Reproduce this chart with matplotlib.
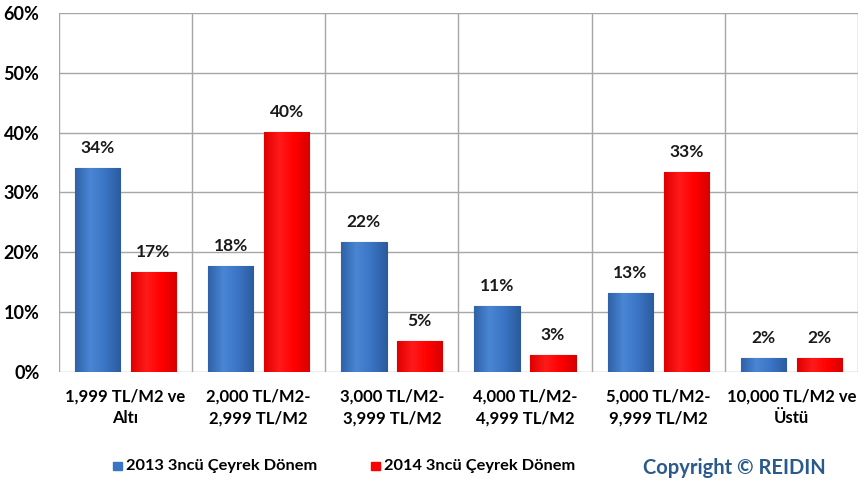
import matplotlib.pyplot as plt
import numpy as np
from matplotlib.colors import LinearSegmentedColormap

# kategoriler ve degerler (%)
categories = ["1,999 TL/M2 ve\nAltı", "2,000 TL/M2-\n2,999 TL/M2", "3,000 TL/M2-\n3,999 TL/M2",
              "4,000 TL/M2-\n4,999 TL/M2", "5,000 TL/M2-\n9,999 TL/M2", "10,000 TL/M2 ve\nÜstü"]
values_2013 = [34.1, 17.7, 21.7, 11.0, 13.2, 2.3]
values_2014 = [16.7, 40.1, 5.2, 2.8, 33.4, 2.3]
series_names = ["2013 3ncü Çeyrek Dönem", "2014 3ncü Çeyrek Dönem"]
y_ticks = [0, 10, 20, 30, 40, 50, 60]

plt.rcParams['font.family'] = ['Lato', 'DejaVu Sans']
plt.rcParams['font.weight'] = 'bold'

fig = plt.figure(figsize=(8.65, 4.9), dpi=100)
ax = fig.add_axes([0.068, 0.241, 0.924, 0.7325])

x = np.arange(len(categories))
w = 0.34
off = 0.21
b1 = ax.bar(x - off, values_2013, w, color="#3a74c4", edgecolor="#2b5a9c", linewidth=0.8, zorder=3)
b2 = ax.bar(x + off, values_2014, w, color="#fe0000", edgecolor="#c80000", linewidth=0.8, zorder=3)

# hafif gradyan (3D gorunum)
cm_blue = LinearSegmentedColormap.from_list("b", ["#2f62a8", "#4a86d4", "#3a74c4", "#2c5c9e"])
cm_red = LinearSegmentedColormap.from_list("r", ["#e00000", "#ff1a1a", "#ff0000", "#d80000"])
grad = np.linspace(0, 1, 64).reshape(1, -1)
for bars, cmap in ((b1, cm_blue), (b2, cm_red)):
    for bar in bars:
        x0, h = bar.get_x(), bar.get_height()
        im = ax.imshow(grad, cmap=cmap, aspect="auto", extent=(x0, x0 + bar.get_width(), 0, h),
                       zorder=3.5, interpolation="bicubic")
        im.set_clip_path(bar)

for bars, vals in ((b1, values_2013), (b2, values_2014)):
    for bar, v in zip(bars, vals):
        ax.text(bar.get_x() + bar.get_width() / 2, v + 2.0, f"{v:.0f}%",
                ha="center", va="bottom", fontsize=12.5, fontweight="bold", color="#1a1a1a")

ax.set_xlim(-0.5, len(categories) - 0.5)
ax.set_ylim(0, 60)
ax.set_yticks(y_ticks)
ax.set_yticklabels([f"{t}%" for t in y_ticks], fontsize=13, fontweight="bold")
ax.set_xticks(x)
ax.set_xticklabels(categories, fontsize=12, fontweight="bold", linespacing=1.45)
ax.tick_params(length=0)
ax.tick_params(axis="y", pad=14)
ax.tick_params(axis="x", pad=12)

# grid
for t in y_ticks:
    ax.axhline(t, color="#a6a6a6", linewidth=1, zorder=1)
for b in np.arange(-0.5, len(categories), 1):
    ax.axvline(b, color="#a6a6a6", linewidth=1, zorder=1)
for s in ax.spines.values():
    s.set_visible(False)

# legend
fig.patches.append(plt.Rectangle((0.131, 0.040), 0.010, 0.018, transform=fig.transFigure,
                                 color="#3a74c4", figure=fig))
fig.text(0.146, 0.049, series_names[0], fontsize=11.8, fontweight="bold", va="center")
fig.patches.append(plt.Rectangle((0.429, 0.040), 0.010, 0.018, transform=fig.transFigure,
                                 color="#fe0000", figure=fig))
fig.text(0.444, 0.049, series_names[1], fontsize=11.8, fontweight="bold", va="center")
fig.text(0.743, 0.045, "Copyright © REIDIN", fontsize=14.5, fontweight="bold",
         color="#2a5a8c", va="center")

fig.savefig("out.png", dpi=100)
